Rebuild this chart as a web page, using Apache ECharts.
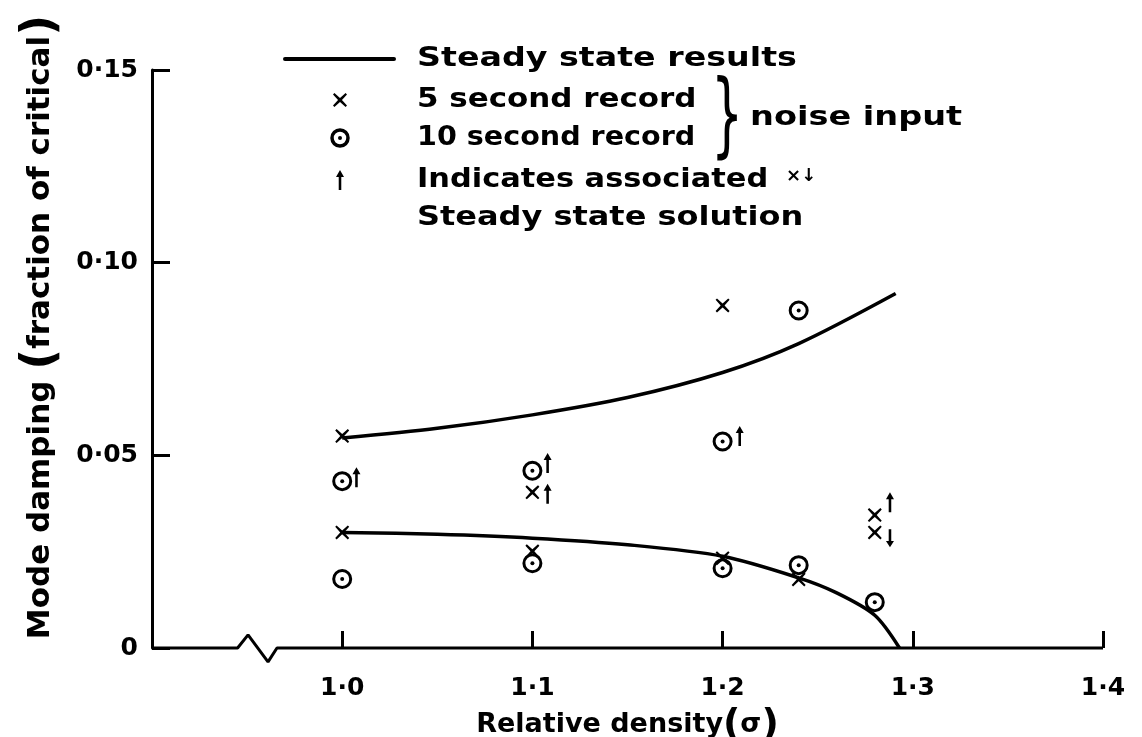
<!DOCTYPE html>
<html>
<head>
<meta charset="utf-8">
<script src="https://cdn.jsdelivr.net/npm/echarts@6/dist/echarts.min.js"></script>
<style>
  html, body { margin: 0; padding: 0; background: #fff; }
  #chart { width: 1142px; height: 737px; }
</style>
</head>
<body>
<div id="chart"></div>
<script>
// steady state curves [relative density, damping]
const steadyUpper = [[1.0, 0.0545], [1.05, 0.057], [1.1, 0.0605], [1.15, 0.065], [1.2, 0.0715], [1.24, 0.079], [1.291, 0.092]]
const steadyLower = [[1.0, 0.030], [1.05, 0.0295], [1.1, 0.0285], [1.15, 0.0268], [1.2, 0.0238], [1.24, 0.0182], [1.26, 0.0143], [1.28, 0.0085], [1.293, 0]]

// noise input results
const record5s = [[1.0, 0.055], [1.0, 0.030], [1.1, 0.0404], [1.1, 0.0251], [1.2, 0.0889], [1.2, 0.0233], [1.24, 0.0178], [1.28, 0.0345], [1.28, 0.030]]
const record10s = [[1.0, 0.0433], [1.0, 0.0179], [1.1, 0.046], [1.1, 0.022], [1.2, 0.0536], [1.2, 0.0207], [1.24, 0.0876], [1.24, 0.0215], [1.28, 0.0119]]

// arrows pointing to associated steady state solution
const arrowsUp = [[1.0075, 0.0443], [1.108, 0.048], [1.108, 0.040], [1.209, 0.055], [1.288, 0.0378]]
const arrowsDown = [[1.288, 0.0285]]

// broken x axis (zigzag)
const axisBreak = [[0.9, 0], [0.945, 0], [0.9505, 0.0034], [0.961, -0.0036], [0.9657, 0], [1.4, 0]]

const xTicks = [1.0, 1.1, 1.2, 1.3, 1.4]

const FONT = '"DejaVu Sans", sans-serif'
const crossPath = 'path://M1,0 L5,3.6 L9,0 L10,1 L6.4,5 L10,9 L9,10 L5,6.4 L1,10 L0,9 L3.6,5 L0,1 Z'
const arrowPath = 'path://M5,0 L10,7 L6.6,7 L6.6,20 L3.4,20 L3.4,7 L0,7 Z'

const crossPts = [[1, 0], [5, 3.6], [9, 0], [10, 1], [6.4, 5], [10, 9], [9, 10], [5, 6.4], [1, 10], [0, 9], [3.6, 5], [0, 1]]
const arrowPts = [[5, 0], [10, 7], [6.6, 7], [6.6, 20], [3.4, 20], [3.4, 7], [0, 7]]

const chart = echarts.init(document.getElementById('chart'))

const legendText = (text, x, y, sx) => ({
  type: 'text',
  x: x,
  y: y,
  scaleX: sx,
  style: { text: text, font: 'bold 26px ' + FONT, fill: '#000', verticalAlign: 'middle' }
})

const option = {
  animation: false,
  backgroundColor: '#fff',
  grid: {
    left: 152,
    right: 39,
    top: 70,
    bottom: 89,
    outerBoundsMode: 'none'
  },
  xAxis: {
    type: 'value',
    min: 0.9,
    max: 1.4,
    interval: 0.1,
    name: 'Relative density{p|(}σ{p|)}',
    nameLocation: 'middle',
    nameGap: 40,
    nameTextStyle: {
      color: '#000',
      fontFamily: FONT,
      fontWeight: 'bold',
      fontSize: 27,
      rich: { p: { fontSize: 38, fontFamily: FONT, color: '#000' } }
    },
    axisLine: { show: false },
    axisTick: {
      inside: true,
      length: 17,
      lineStyle: { color: '#000', width: 3 }
    },
    axisLabel: {
      margin: 28,
      color: '#000',
      fontFamily: FONT,
      fontWeight: 'bold',
      fontSize: 25,
      formatter: v => xTicks.some(t => Math.abs(t - v) < 1e-6) ? v.toFixed(1).replace('.', '·') : ''
    },
    splitLine: { show: false }
  },
  yAxis: {
    type: 'value',
    min: 0,
    max: 0.15,
    interval: 0.05,
    name: 'Mode damping {p|(}fraction of critical{p|)}',
    nameLocation: 'middle',
    nameGap: 88,
    nameTextStyle: {
      color: '#000',
      fontFamily: FONT,
      fontWeight: 'bold',
      fontSize: 31,
      padding: [0, 0, 0, 64],
      rich: { p: { fontSize: 46, fontFamily: FONT, color: '#000' } }
    },
    axisLine: {
      show: true,
      lineStyle: { color: '#000', width: 3 }
    },
    axisTick: {
      inside: true,
      length: 18,
      lineStyle: { color: '#000', width: 3 }
    },
    axisLabel: {
      margin: 14,
      color: '#000',
      fontFamily: FONT,
      fontWeight: 'bold',
      fontSize: 25,
      formatter: v => v === 0 ? '0' : v.toFixed(2).replace('.', '·')
    },
    splitLine: { show: false }
  },
  series: [
    {
      name: 'axis',
      type: 'line',
      data: axisBreak,
      symbol: 'none',
      clip: false,
      silent: true,
      lineStyle: { color: '#000', width: 3 }
    },
    {
      name: 'Steady state results',
      type: 'line',
      data: steadyUpper,
      smooth: 0.3,
      symbol: 'none',
      lineStyle: { color: '#000', width: 3.5 }
    },
    {
      name: 'Steady state results (lower)',
      type: 'line',
      data: steadyLower,
      smooth: 0.3,
      symbol: 'none',
      lineStyle: { color: '#000', width: 3.5 }
    },
    {
      name: '10 second record',
      type: 'scatter',
      data: record10s,
      symbol: 'circle',
      symbolSize: 17,
      itemStyle: { color: '#fff', borderColor: '#000', borderWidth: 3, opacity: 1 },
      z: 3
    },
    {
      name: '10 second record centre',
      type: 'scatter',
      data: record10s,
      symbol: 'circle',
      symbolSize: 4,
      itemStyle: { color: '#000', opacity: 1 },
      z: 4
    },
    {
      name: '5 second record',
      type: 'scatter',
      data: record5s,
      symbol: crossPath,
      symbolSize: 14,
      itemStyle: { color: '#000', opacity: 1 },
      z: 5
    },
    {
      name: 'arrows up',
      type: 'scatter',
      data: arrowsUp,
      symbol: arrowPath,
      symbolSize: [8, 20],
      itemStyle: { color: '#000', opacity: 1 }
    },
    {
      name: 'arrows down',
      type: 'scatter',
      data: arrowsDown,
      symbol: arrowPath,
      symbolRotate: 180,
      symbolSize: [8, 18],
      itemStyle: { color: '#000', opacity: 1 }
    }
  ],
  graphic: [
    { type: 'line', shape: { x1: 285, y1: 59, x2: 394, y2: 59 }, style: { stroke: '#000', lineWidth: 4, lineCap: 'round' } },
    legendText('Steady state results', 417, 59, 1.28),
    { type: 'polygon', x: 333, y: 93, scaleX: 1.4, scaleY: 1.4, shape: { points: crossPts }, style: { fill: '#000' } },
    legendText('5 second record', 417, 100, 1.19),
    { type: 'circle', shape: { cx: 340, cy: 138, r: 8 }, style: { fill: '#fff', stroke: '#000', lineWidth: 3.5 } },
    { type: 'circle', shape: { cx: 340, cy: 138, r: 2 }, style: { fill: '#000' } },
    legendText('10 second record', 417, 138, 1.1),
    { type: 'text', x: 711, y: 122, scaleX: 0.55, style: { text: '}', font: '92px ' + FONT, fill: '#000', verticalAlign: 'middle' } },
    legendText('noise input', 750, 118, 1.29),
    { type: 'polygon', x: 336, y: 170, scaleX: 0.8, shape: { points: arrowPts }, style: { fill: '#000' } },
    legendText('Indicates associated', 417, 180, 1.17),
    { type: 'text', x: 786, y: 176, style: { text: '×↓', font: 'bold 18px ' + FONT, fill: '#000', verticalAlign: 'middle' } },
    legendText('Steady state solution', 417, 218, 1.23)
  ]
}

chart.setOption(option)

window.addEventListener('resize', () => {
  chart.resize()
})
</script>
</body>
</html>
